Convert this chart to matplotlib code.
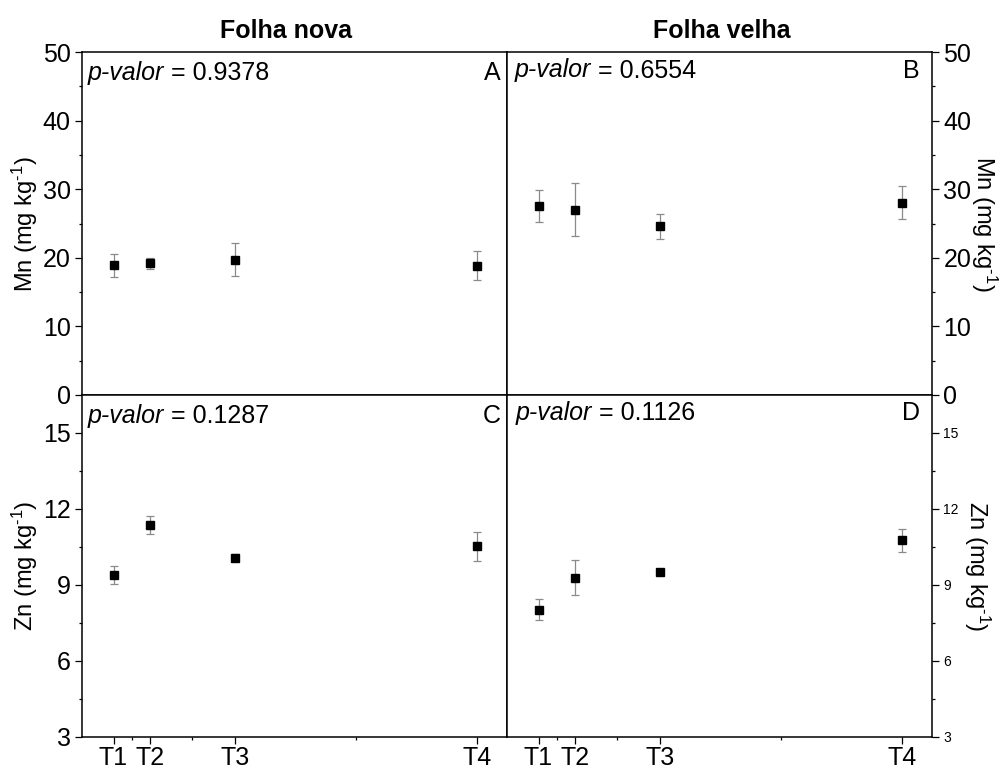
import matplotlib
matplotlib.use("Agg")
import matplotlib.pyplot as plt
from matplotlib.ticker import MultipleLocator, FixedLocator

plt.rcParams["font.family"] = ["Liberation Sans", "DejaVu Sans"]
plt.rcParams["mathtext.fontset"] = "custom"
plt.rcParams["mathtext.rm"] = "Liberation Sans"
plt.rcParams["mathtext.it"] = "Liberation Sans:italic"

# Treatments and their sampling positions on the x axis
treatments = ["T1", "T2", "T3", "T4"]
x_pos = [30, 45, 80, 180]

# Mn (mg/kg): mean and error per treatment
mn_new = [18.9, 19.2, 19.7, 18.85]
mn_new_err = [1.65, 0.8, 2.4, 2.15]
mn_old = [27.55, 27.0, 24.6, 28.0]
mn_old_err = [2.3, 3.85, 1.8, 2.4]

# Zn (mg/kg): mean and error per treatment
zn_new = [9.39, 11.37, 10.08, 10.52]
zn_new_err = [0.35, 0.35, 0.15, 0.59]
zn_old = [8.02, 9.29, 9.52, 10.77]
zn_old_err = [0.42, 0.70, 0.13, 0.46]

p_values = ["0.9378", "0.6554", "0.1287", "0.1126"]
panel_letters = ["A", "B", "C", "D"]
column_titles = ["Folha nova", "Folha velha"]

W, H = 1005, 770
fig = plt.figure(figsize=(W / 100, H / 100), dpi=100)


def box(x0, y0, x1, y1):
    return [x0 / W, 1 - y1 / H, (x1 - x0) / W, (y1 - y0) / H]


ax_a = fig.add_axes(box(82, 52, 507, 395))
ax_b = fig.add_axes(box(507, 52, 932, 395))
ax_c = fig.add_axes(box(82, 395, 507, 737))
ax_d = fig.add_axes(box(507, 395, 932, 737))

series = [
    (ax_a, mn_new, mn_new_err),
    (ax_b, mn_old, mn_old_err),
    (ax_c, zn_new, zn_new_err),
    (ax_d, zn_old, zn_old_err),
]

minor_x = [(a + b) / 2 for a, b in zip(x_pos[:-1], x_pos[1:])]

for ax, y, err in series:
    ax.errorbar(x_pos, y, yerr=err, fmt="s", color="black", markersize=5.5,
                ecolor="#8a8a8a", elinewidth=0.9, capsize=2.6, capthick=0.9,
                zorder=3)
    ax.set_xlim(17, 192.3)
    for s in ax.spines.values():
        s.set_linewidth(1.1)
    ax.tick_params(which="both", direction="out", width=0.9, colors="black")
    ax.tick_params(which="major", length=5.2, labelsize=18, pad=3)
    ax.tick_params(which="minor", length=2.4)

# Mn panels
for ax in (ax_a, ax_b):
    ax.set_ylim(0, 50)
    ax.yaxis.set_major_locator(MultipleLocator(10))
    ax.yaxis.set_minor_locator(MultipleLocator(5))
    ax.set_xticks([])
    ax.xaxis.set_minor_locator(FixedLocator([]))

# Zn panels
for ax in (ax_c, ax_d):
    ax.set_ylim(3, 16.5)
    ax.yaxis.set_major_locator(FixedLocator([3, 6, 9, 12, 15]))
    ax.yaxis.set_minor_locator(FixedLocator([4.5, 7.5, 10.5, 13.5]))
    ax.set_xticks(x_pos)
    ax.set_xticklabels(treatments)
    ax.xaxis.set_minor_locator(FixedLocator(minor_x))
    ax.tick_params(axis="x", which="major", pad=1.5, labelsize=18)

# Right column: y axis on the right side
for ax in (ax_b, ax_d):
    ax.yaxis.tick_right()
    ax.tick_params(axis="y", which="both", left=False, right=True)
ax_d.tick_params(axis="y", which="major", labelsize=10)

# Axis labels (superscript uses a plain hyphen)
mn_label = "Mn (mg kg$^{\\mathregular{\u2010}1}$)"
zn_label = "Zn (mg kg$^{\\mathregular{\u2010}1}$)"
fig.text(25 / W, 1 - 224 / H, mn_label, rotation=90,
         ha="center", va="center", fontsize=17)
fig.text(984 / W, 1 - 224 / H, mn_label, rotation=270,
         ha="center", va="center", fontsize=17)
fig.text(25 / W, 1 - 566 / H, zn_label, rotation=90,
         ha="center", va="center", fontsize=17)
fig.text(977 / W, 1 - 566 / H, zn_label, rotation=270,
         ha="center", va="center", fontsize=17)

# Column titles
fig.text(285.5 / W, 1 - 38 / H, column_titles[0], ha="center", va="baseline",
         fontsize=18, fontweight="bold")
fig.text(721.7 / W, 1 - 38 / H, column_titles[1], ha="center", va="baseline",
         fontsize=18, fontweight="bold")

# p-values and panel letters
text_offsets = {
    ax_a: (6, 28, 6),
    ax_b: (8, 25.5, 12),
    ax_c: (6, 28, 6),
    ax_d: (9, 25, 12),
}
for ax, p, letter in zip((ax_a, ax_b, ax_c, ax_d), p_values, panel_letters):
    dx, dy, rx = text_offsets[ax]
    bb = ax.get_position()
    w_px = bb.width * W
    h_px = bb.height * H
    t = ax.text(dx / w_px, 1 - dy / h_px, "p-valor", style="italic",
                fontsize=18, transform=ax.transAxes, va="baseline", ha="left")
    ax.annotate(" = " + p, xy=(1, 0), xycoords=t, va="bottom", ha="left",
                fontsize=18)
    ax.text(1 - rx / w_px, 1 - dy / h_px, letter, fontsize=18,
            transform=ax.transAxes, va="baseline", ha="right")

fig.savefig("out.png", dpi=100)
